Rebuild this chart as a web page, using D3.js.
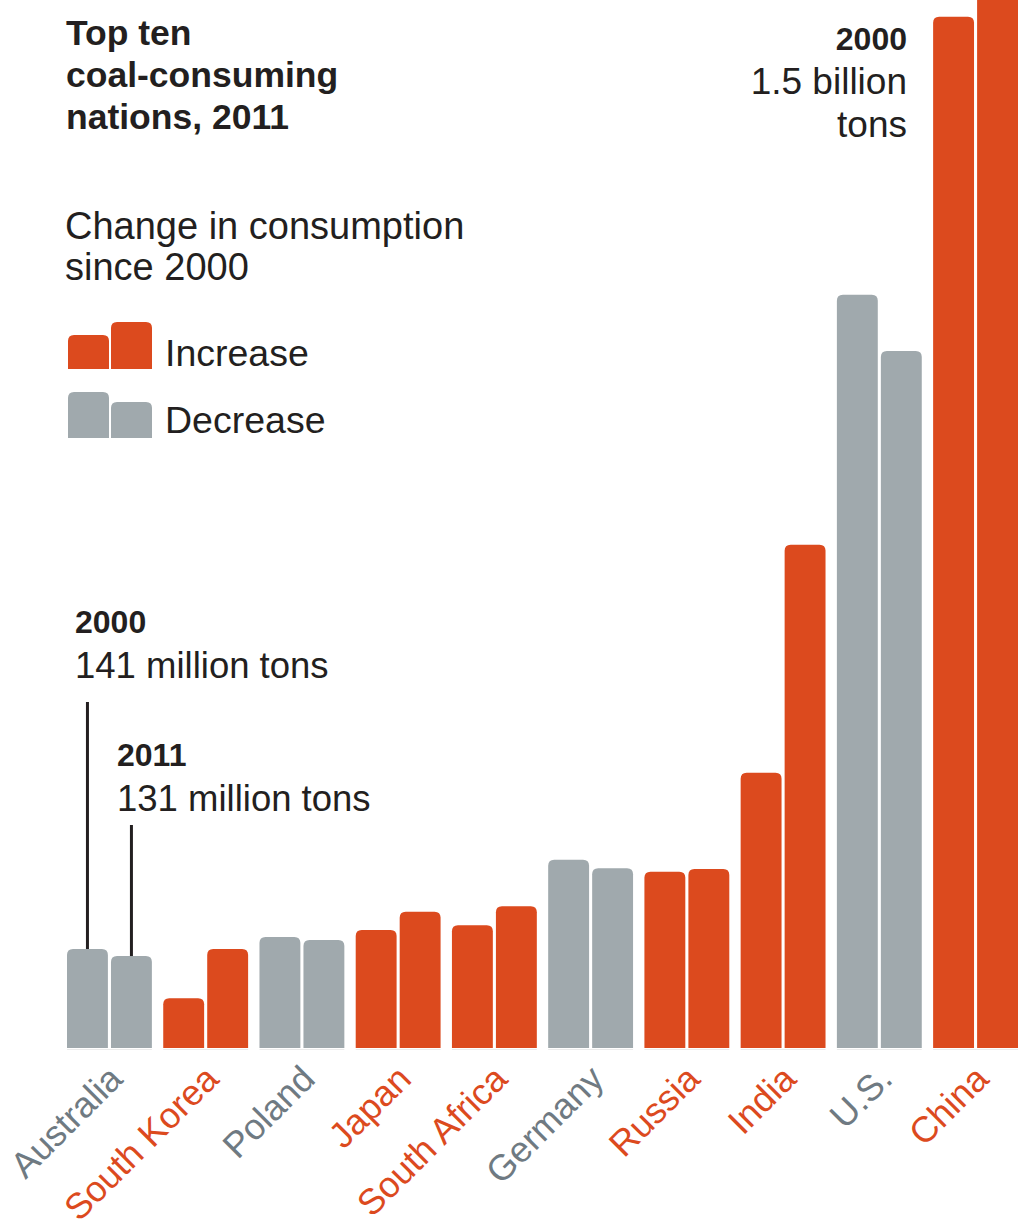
<!DOCTYPE html>
<html lang="en">
<head>
    <meta charset="UTF-8">
    <title>Top ten coal-consuming nations, 2011</title>
    <script src="https://d3js.org/d3.v7.min.js"></script>
    <style>
        body { margin: 0; background: #fff; }
        svg { display: block; font-family: "Liberation Sans", Arial, Helvetica, sans-serif; }
        .dark { fill: #231f20; }
    </style>
</head>
<body>
    <div id="chart"></div>
    <script>
        // coal consumption, million tons
        const countries = ["Australia", "South Korea", "Poland", "Japan", "South Africa",
                           "Germany", "Russia", "India", "U.S.", "China"];
        const years = ["2000", "2011"];
        const values2000 = [141, 71, 158, 168, 175, 268, 251, 392, 1073, 1469];
        const values2011 = [131, 141, 154, 194, 202, 256, 255, 717, 993, 3800];
        const legendItems = ["Increase", "Decrease"];

        const width = 1018, height = 1226;
        const orange = "#dc4a1e", grey = "#a0a9ad", greyText = "#6f7a82";

        const data = countries.map((c, i) => ({
            country: c,
            v2000: values2000[i],
            v2011: values2011[i],
            up: values2011[i] > values2000[i]
        }));

        const svg = d3.select("#chart").append("svg")
            .attr("width", width)
            .attr("height", height);

        const x = d3.scaleBand()
            .domain(countries)
            .range([67, 1018])
            .paddingInner(0.118)
            .paddingOuter(0);

        const xSub = d3.scaleBand()
            .domain(years)
            .range([0, x.bandwidth()])
            .paddingInner(0.07);

        const y = d3.scaleLinear()
            .domain([0, 1000])
            .range([1048, 346]);

        // bar with rounded top corners
        function topRounded(x0, y0, w, h, r) {
            if (h <= 0) return "";
            r = Math.min(r, h, w / 2);
            return "M" + x0 + "," + (y0 + h) +
                "V" + (y0 + r) +
                "Q" + x0 + "," + y0 + " " + (x0 + r) + "," + y0 +
                "H" + (x0 + w - r) +
                "Q" + (x0 + w) + "," + y0 + " " + (x0 + w) + "," + (y0 + r) +
                "V" + (y0 + h) + "Z";
        }

        svg.append("clipPath").attr("id", "plotclip")
            .append("rect").attr("x", 0).attr("y", 0).attr("width", width).attr("height", height);

        const groups = svg.append("g")
            .attr("clip-path", "url(#plotclip)")
            .selectAll("g.country")
            .data(data)
            .enter().append("g")
            .attr("class", "country")
            .attr("transform", d => "translate(" + x(d.country) + ",0)");

        // faint base line under each pair
        groups.append("line")
            .attr("x1", 0)
            .attr("x2", x.bandwidth())
            .attr("y1", y(0) + 1.5)
            .attr("y2", y(0) + 1.5)
            .attr("stroke", "#ececec")
            .attr("stroke-width", 1);

        groups.selectAll("path.bar")
            .data(d => years.map(yr => ({ year: yr, value: d["v" + yr], up: d.up })))
            .enter().append("path")
            .attr("class", "bar")
            .attr("fill", d => d.up ? orange : grey)
            .attr("d", d => topRounded(xSub(d.year), y(d.value), xSub.bandwidth(), y(0) - y(d.value), 6));

        // country labels, rotated
        svg.append("g")
            .selectAll("text")
            .data(data)
            .enter().append("text")
            .attr("transform", d => "translate(" + (x(d.country) + x.bandwidth() / 2 + 15) + ",1081) rotate(-45)")
            .attr("text-anchor", "end")
            .attr("font-size", 36)
            .attr("fill", d => d.up ? orange : greyText)
            .text(d => d.country);

        // title
        const title = svg.append("text")
            .attr("class", "dark")
            .attr("font-weight", "bold")
            .attr("font-size", 35.5);
        ["Top ten", "coal-consuming", "nations, 2011"].forEach((t, i) => {
            title.append("tspan").attr("x", 66).attr("y", 45 + i * 42).text(t);
        });

        const sub = svg.append("text")
            .attr("class", "dark")
            .attr("font-size", 38);
        ["Change in consumption", "since 2000"].forEach((t, i) => {
            sub.append("tspan").attr("x", 65).attr("y", 239 + i * 41).text(t);
        });

        // legend
        const legendBars = [[34, 47], [46, 36]];
        const legendBottoms = [369, 438];
        legendItems.forEach((name, i) => {
            const g = svg.append("g");
            legendBars[i].forEach((h, j) => {
                g.append("path")
                    .attr("fill", i === 0 ? orange : grey)
                    .attr("d", topRounded(68 + j * 43, legendBottoms[i] - h, 41, h, 6));
            });
            g.append("text")
                .attr("class", "dark")
                .attr("x", 165)
                .attr("y", legendBottoms[i] - 3 - (i === 0 ? 0 : 2))
                .attr("font-size", 37.5)
                .text(name);
        });

        // annotations for Australia
        const aus = data[0];
        const annos = [
            { year: "2000", label: "141 million tons", tx: 75, ty: 633, lineTop: 702 },
            { year: "2011", label: "131 million tons", tx: 117, ty: 766, lineTop: 825 }
        ];
        annos.forEach(a => {
            const cx = x(aus.country) + xSub(a.year) + xSub.bandwidth() / 2;
            svg.append("line")
                .attr("x1", cx).attr("x2", cx)
                .attr("y1", a.lineTop)
                .attr("y2", y(aus["v" + a.year]))
                .attr("stroke", "#231f20")
                .attr("stroke-width", 3);
            svg.append("text").attr("class", "dark")
                .attr("x", a.tx).attr("y", a.ty)
                .attr("font-weight", "bold").attr("font-size", 32)
                .text(a.year);
            svg.append("text").attr("class", "dark")
                .attr("x", a.tx).attr("y", a.ty + 45)
                .attr("font-size", 36.5)
                .text(a.label);
        });

        // annotation for China 2000
        const chinaNote = svg.append("text").attr("class", "dark")
            .attr("text-anchor", "end");
        chinaNote.append("tspan").attr("x", 907).attr("y", 50)
            .attr("font-weight", "bold").attr("font-size", 32).text("2000");
        chinaNote.append("tspan").attr("x", 907).attr("y", 94)
            .attr("font-size", 37).text("1.5 billion");
        chinaNote.append("tspan").attr("x", 907).attr("y", 137)
            .attr("font-size", 37).text("tons");
    </script>
</body>
</html>
